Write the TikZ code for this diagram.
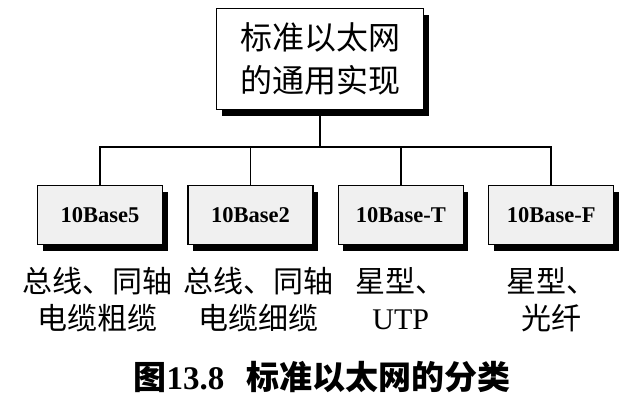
\documentclass[tikz,border=0pt]{standalone}
\usepackage{fontspec}
\setmainfont{Liberation Serif}
\newfontfamily\cjk{Noto Sans CJK SC}
\usetikzlibrary{positioning,shadows}

\begin{document}
\begin{tikzpicture}[x=1pt, y=-1pt,
  box/.style={draw, line width=1.4pt, fill=gray!12, minimum width=125pt, minimum height=59pt, font=\fontsize{22.5}{24}\selectfont\bfseries, drop shadow={shadow xshift=5pt, shadow yshift=-6pt, fill=black, opacity=1}},
  topbox/.style={box, fill=white, minimum width=207pt, minimum height=101pt, align=center, font=\fontsize{32}{43}\selectfont\cjk},
  desc/.style={inner sep=0pt, align=center, font=\fontsize{30}{37}\selectfont\cjk},
  conn/.style={line width=1.6pt}
]
  \useasboundingbox (0,0) rectangle (642,407);

  \node[topbox] (std) at (320,59) {标准以太网\\的通用实现};
  \node[box] (b5) at (100,215) {10Base5};
  \node[box, right=24pt of b5] (b2) {10Base2};
  \node[box, right=24pt of b2] (bt) {10Base-T};
  \node[box, right=24pt of bt] (bf) {10Base-F};

  \node[desc, below=22pt of b5, xshift=-3pt] (d5) {总线、同轴\\电缆粗缆};
  \node[desc, below=22pt of b2, xshift=8pt] (d2) {总线、同轴\\电缆细缆};
  \node[desc, below=22pt of bt] (dt) {星型、\\{\rmfamily UTP}};
  \node[desc, below=22pt of bf] (df) {星型、\\光纤};

  \coordinate (bus) at (0,147);
  \draw[conn] (std.south) -- (std.south |- bus);
  \draw[conn] (b5.north) -- (b5.north |- bus) -- (bf.north |- bus) -- (bf.north);
  \draw[conn] (b2.north) -- (b2.north |- bus);
  \draw[conn] (bt.north) -- (bt.north |- bus);

  \node[font=\fontsize{33}{36}\selectfont\bfseries] (cap) at (322,377) {{\cjk 图}13.8\hspace{22pt}{\cjk 标准以太网的分类}};
\end{tikzpicture}
\end{document}
